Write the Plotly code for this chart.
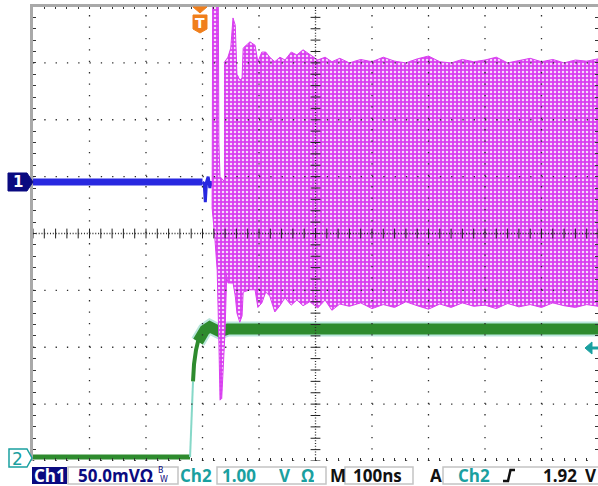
import numpy as np
import plotly.graph_objects as go

# ---------------- data (time in ns, amplitude in divisions) ----------------
ch1_t = [0, 100, 200, 300, 303, 305, 307, 310, 313, 316]
ch1_v = [0.905, 0.905, 0.905, 0.905, 0.88, 0.55, 0.9, 1.0, 0.8, 0.92]

ch2_t = [0, 100, 200, 278, 279.6, 281.4, 283.2, 285, 288.5, 292, 297, 304, 313,
         322, 331, 345, 400, 500, 600, 700, 800, 900, 1000]
ch2_v = [-3.93, -3.93, -3.93, -3.93, -3.5, -3.0, -2.6, -2.3, -2.05, -1.9, -1.78, -1.7,
         -1.64, -1.68, -1.73, -1.68, -1.68, -1.68, -1.68, -1.68, -1.68, -1.68, -1.68]

spike_t = [318, 317, 317, 322, 326, 329, 331, 334, 340, 343, 340, 331, 329, 328]
spike_v = [4.1, 1.6, 0.45, -0.1, -0.65, -1.9, -2.93, -2.9, -1.7, -0.65, 0.9, 1.0, 1.6, 4.1]

body_t = [338, 345, 350, 354, 358, 361, 366, 370, 372, 384, 393, 398, 405, 412, 419,
          428, 437, 446, 457, 467, 478, 490, 504, 517, 529, 543, 560, 580, 600, 620,
          640, 660, 680, 700, 720, 740, 760, 780, 800, 820, 840, 860, 880, 900, 920,
          940, 960, 980, 1000]
body_top = [3.0, 3.1, 3.26, 3.79, 3.66, 2.8, 2.7, 2.73, 3.26, 3.37, 3.31, 3.02, 3.19,
            3.19, 3.1, 3.02, 3.1, 3.05, 3.19, 3.14, 3.23, 3.14, 3.05, 3.1, 3.02, 3.08,
            3.0, 3.06, 3.02, 3.1, 3.03, 3.0, 3.07, 3.12, 3.02, 3.0, 3.06, 3.02, 3.05,
            3.1, 3.0, 3.04, 3.08, 3.02, 3.06, 3.0, 3.05, 3.03, 3.07]
body_bot = [-0.5, -0.87, -0.87, -0.87, -1.1, -1.4, -1.56, -1.45, -1.03, -0.99, -0.99,
            -1.3, -1.22, -1.03, -1.1, -1.38, -1.27, -1.13, -1.26, -1.17, -1.27, -1.2,
            -1.31, -1.17, -1.35, -1.24, -1.28, -1.22, -1.32, -1.25, -1.3, -1.2, -1.27,
            -1.33, -1.24, -1.3, -1.22, -1.28, -1.26, -1.32, -1.23, -1.29, -1.25, -1.3,
            -1.22, -1.27, -1.3, -1.25, -1.28]

# ---------------- styles ----------------
MAG = "#d93ef0"
GREEN = "#2e8b2e"
BLUE = "#2828e0"
TEAL = "#1aa0a0"
NAVY = "#0a0a80"
ORANGE = "#f07f1c"
FONT = "Open Sans"

L, T, PW, PH = 33, 6, 565, 455


def fx(px):
    return (px - L) / PW


def fy(py):
    return (T + PH - py) / PH


fig = go.Figure()

t2 = np.array(ch2_t)
v2 = np.array(ch2_v)
low = t2 <= 278
rise_lo = (t2 >= 278) & (t2 <= 283.2)
rise_hi = (t2 >= 283.2) & (t2 <= 297)
high = t2 >= 292

fig.add_trace(go.Scatter(x=t2[high], y=v2[high], mode="lines",
                         line=dict(color="#b9e6dc", width=15), hoverinfo="skip"))
fig.add_trace(go.Scatter(x=t2[high], y=v2[high], mode="lines",
                         line=dict(color=GREEN, width=11), hoverinfo="skip"))
fig.add_trace(go.Scatter(x=t2[low], y=v2[low], mode="lines",
                         line=dict(color=GREEN, width=5), hoverinfo="skip"))
fig.add_trace(go.Scatter(x=t2[rise_lo], y=v2[rise_lo], mode="lines",
                         line=dict(color="#86d8c8", width=2), hoverinfo="skip"))
fig.add_trace(go.Scatter(x=t2[rise_hi], y=v2[rise_hi], mode="lines",
                         line=dict(color=GREEN, width=4), hoverinfo="skip"))

t1 = np.array(ch1_t)
v1 = np.array(ch1_v)
flat = t1 <= 300
blip = t1 >= 300
fig.add_trace(go.Scatter(x=t1[flat], y=v1[flat], mode="lines",
                         line=dict(color=BLUE, width=7), hoverinfo="skip"))
fig.add_trace(go.Scatter(x=t1[blip], y=v1[blip], mode="lines",
                         line=dict(color=BLUE, width=3), hoverinfo="skip"))

pattern = dict(shape=".", bgcolor=MAG, fgcolor="#f8dcfc", size=4, solidity=0.3,
               fillmode="replace")
fig.add_trace(go.Scatter(x=spike_t, y=spike_v, mode="lines", fill="toself",
                         fillcolor=MAG, fillpattern=pattern,
                         line=dict(color=MAG, width=1), hoverinfo="skip"))
fig.add_trace(go.Scatter(x=body_t + body_t[::-1], y=body_top + body_bot[::-1],
                         mode="lines", fill="toself", fillcolor=MAG,
                         fillpattern=pattern,
                         line=dict(color=MAG, width=1), hoverinfo="skip"))

# centre cross tick marks
ct = np.arange(0, 1000.1, 20)
cv = np.arange(-4, 4.01, 0.2)
fig.add_trace(go.Scatter(x=ct, y=np.zeros_like(ct), mode="markers",
                         marker=dict(symbol="line-ns", size=7,
                                     line=dict(color="#222", width=1)),
                         hoverinfo="skip"))
fig.add_trace(go.Scatter(x=np.full_like(cv, 500), y=cv, mode="markers",
                         marker=dict(symbol="line-ew", size=7,
                                     line=dict(color="#222", width=1)),
                         hoverinfo="skip"))

shapes = []
for k in range(1, 10):
    dash = "1px,1.83px" if k == 5 else "1.3px,10.1px"
    shapes.append(dict(type="line", xref="x", yref="y", x0=k * 100, x1=k * 100,
                       y0=-4, y1=4, layer="above",
                       line=dict(color="#2a2a2a", width=1.3, dash=dash)))
for k in range(-4, 4):
    dash = "1px,1.83px" if k == 0 else "1.3px,10px"
    shapes.append(dict(type="line", xref="x", yref="y", y0=k, y1=k,
                       x0=0, x1=1000, layer="above",
                       line=dict(color="#2a2a2a", width=1.3, dash=dash)))
# borders
shapes.append(dict(type="line", xref="paper", yref="paper", x0=fx(30), x1=fx(600),
                   y0=fy(5.5), y1=fy(5.5), layer="above",
                   line=dict(color="#a9a9a9", width=3)))
shapes.append(dict(type="line", xref="paper", yref="paper", x0=fx(31.5), x1=fx(31.5),
                   y0=fy(4), y1=fy(461), layer="above",
                   line=dict(color="#a9a9a9", width=3)))


def path(pts, close=True):
    s = "M " + " L ".join(f"{fx(a):.5f},{fy(b):.5f}" for a, b in pts)
    return s + (" Z" if close else "")


# channel markers
shapes.append(dict(type="path", xref="paper", yref="paper",
                   path=path([(8, 173), (27, 173), (33, 182), (27, 191), (8, 191)]),
                   fillcolor=NAVY, line=dict(color=NAVY, width=1), layer="above"))
shapes.append(dict(type="path", xref="paper", yref="paper",
                   path=path([(9, 449), (27, 449), (32, 458), (27, 467), (9, 467)]),
                   fillcolor="white", line=dict(color=TEAL, width=1.5), layer="above"))
# trigger marker
shapes.append(dict(type="path", xref="paper", yref="paper",
                   path=path([(193, 7), (207, 7), (200, 13)]),
                   fillcolor=ORANGE, line=dict(color=ORANGE, width=1), layer="above"))
shapes.append(dict(type="path", xref="paper", yref="paper",
                   path=path([(193, 15), (207, 15), (207, 29), (200, 33), (193, 29)]),
                   fillcolor=ORANGE, line=dict(color=ORANGE, width=1), layer="above"))
# trigger level arrow
shapes.append(dict(type="path", xref="paper", yref="paper",
                   path=path([(585, 348), (592, 342), (592, 354)]),
                   fillcolor=TEAL, line=dict(color=TEAL, width=1), layer="above"))
shapes.append(dict(type="line", xref="paper", yref="paper", x0=fx(591), x1=fx(600),
                   y0=fy(348), y1=fy(348), line=dict(color=TEAL, width=3),
                   layer="above"))

# status bar boxes
shapes.append(dict(type="rect", xref="paper", yref="paper", x0=fx(32), x1=fx(67),
                   y0=fy(484), y1=fy(467), fillcolor=NAVY, line=dict(width=0)))
for a, b in [(68, 178), (217, 326), (345, 413), (443, 602)]:
    shapes.append(dict(type="rect", xref="paper", yref="paper", x0=fx(a), x1=fx(b),
                       y0=fy(484), y1=fy(467), fillcolor="white",
                       line=dict(color="#c4c4c4", width=1.5)))
# rising-edge symbol
shapes.append(dict(type="path", xref="paper", yref="paper",
                   path=path([(503, 481), (508, 481), (510.5, 470), (515, 470)], False),
                   line=dict(color="#111", width=2.5)))

ann = []


def text(s, px, py, color, size=18, anchor="left", weight=700, family=FONT, h=None):
    d = dict(text=s, x=fx(px), y=fy(py),
             xref="paper", yref="paper", xanchor=anchor, yanchor="middle",
             showarrow=False, borderpad=0,
             font=dict(family=family, size=size, color=color, weight=weight))
    if h is not None:
        d["height"] = h
        d["valign"] = "middle"
    ann.append(d)


text("1", 17.5, 182.5, "white", 15, "center", 700, "DejaVu Sans")
text("2", 17.5, 458.5, TEAL, 17, "center", 400, "DejaVu Sans")
text("T", 200, 23, "white", 14, "center", 700, "DejaVu Sans")

ROW = 475.5
status = [("Ch1", 49.5, "white", "center"), ("50.0mVΩ", 77, NAVY, "left"),
          ("Ch2", 179, TEAL, "left"), ("1.00", 221, TEAL, "left"),
          ("V", 278, TEAL, "left"), ("Ω", 300, TEAL, "left"),
          ("M", 329, "#111", "left"), ("100ns", 352, "#111", "left"),
          ("A", 429, "#111", "left"), ("Ch2", 457, TEAL, "left"),
          ("1.92", 542, "#111", "left"), ("V", 584, "#111", "left")]
for s, px, col, anc in status:
    text(s, px, ROW, col, 17, anc, h=18)
text("B", 157, 471, NAVY, 8, weight=400, family="DejaVu Sans")
text("W", 159, 479, NAVY, 8, weight=400, family="DejaVu Sans")

fig.update_layout(
    width=598, height=486,
    margin=dict(l=L, r=598 - L - PW, t=T, b=486 - T - PH, pad=0),
    paper_bgcolor="white", plot_bgcolor="white",
    showlegend=False, shapes=shapes, annotations=ann,
    xaxis=dict(range=[0, 1000], showgrid=False, zeroline=False, showline=False,
               showticklabels=False, ticks="inside", ticklen=3, tickwidth=1,
               tickcolor="#333", dtick=20, tick0=0, mirror="ticks",
               fixedrange=True),
    yaxis=dict(range=[-4, 4], showgrid=False, zeroline=False, showline=False,
               showticklabels=False, ticks="inside", ticklen=3, tickwidth=1,
               tickcolor="#333", dtick=0.2, tick0=0, mirror="ticks",
               fixedrange=True),
)

fig.write_html("out.html")
